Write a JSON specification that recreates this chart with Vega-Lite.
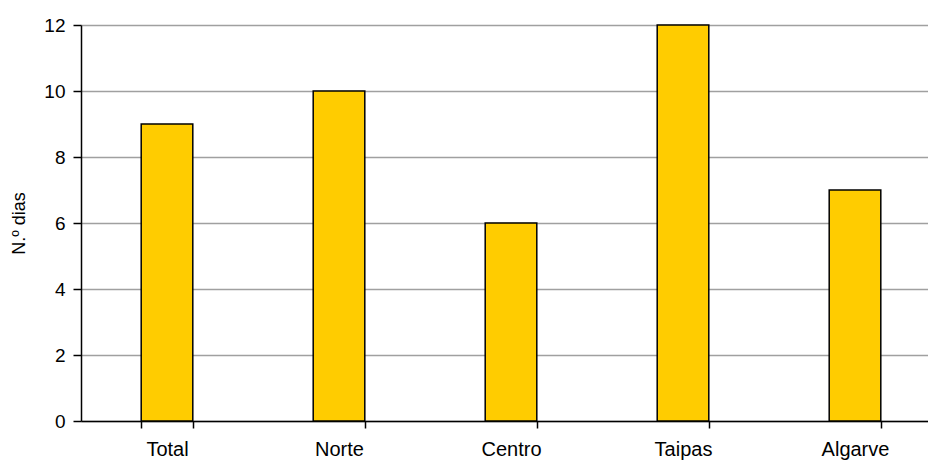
{
  "$schema": "https://vega.github.io/schema/vega-lite/v6.json",
  "autosize": {"type": "none"},
  "padding": {"left": 81, "top": 25, "right": 0, "bottom": 41},
  "width": 847,
  "height": 396,
  "background": "white",
  "data": {"values": [
    {"regiao": "Total", "dias": 9},
    {"regiao": "Norte", "dias": 10},
    {"regiao": "Centro", "dias": 6},
    {"regiao": "Taipas", "dias": 12},
    {"regiao": "Algarve", "dias": 7}
  ]},
  "mark": {"type": "bar", "fill": "#FFCC00", "stroke": "#000000", "strokeWidth": 1.5},
  "encoding": {
    "x": {
      "field": "regiao", "type": "nominal", "sort": null,
      "scale": {"range": [0, 860], "paddingInner": 0.7, "paddingOuter": 0.35},
      "axis": {
        "title": null, "labelAngle": 0, "tickBand": "extent", "grid": false,
        "domainColor": "#000", "domainWidth": 1.5, "tickColor": "#000", "tickWidth": 1.5, "tickSize": 7,
        "labelFont": "Liberation Sans", "labelFontSize": 20, "labelColor": "#000", "labelPadding": 11
      }
    },
    "y": {
      "field": "dias", "type": "quantitative",
      "scale": {"domain": [0, 12], "nice": false},
      "axis": {
        "values": [0, 2, 4, 6, 8, 10, 12],
        "title": "N.º dias", "titleFont": "Liberation Sans", "titleFontSize": 18, "titleFontWeight": "normal", "titleColor": "#000", "titlePadding": 15,
        "grid": true, "gridColor": "#a0a0a0", "gridWidth": 1.5,
        "domainColor": "#000", "domainWidth": 1.5, "tickColor": "#000", "tickWidth": 1.5, "tickSize": 8,
        "labelFont": "Liberation Sans", "labelFontSize": 19, "labelColor": "#000", "labelPadding": 8
      }
    }
  },
  "config": {"view": {"stroke": null}}
}
